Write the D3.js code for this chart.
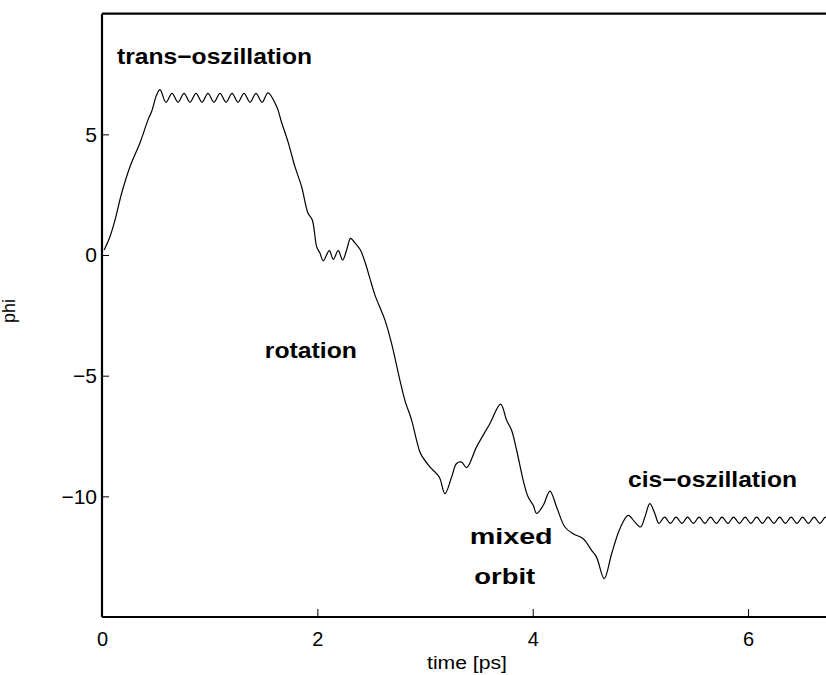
<!DOCTYPE html>
<html>
<head>
<meta charset="utf-8">
<script src="https://cdn.jsdelivr.net/npm/d3@7"></script>
<style>
  html, body { margin: 0; padding: 0; background: #fff; }
  svg { display: block; }
</style>
</head>
<body>
<svg id="chart" width="826" height="675"></svg>
<script>
// Dihedral angle phi over simulation time
const timePs = [
  0.02, 0.074, 0.121, 0.183, 0.26, 0.353, 0.427, 0.461, 0.508, 0.539,
  0.594, 0.650, 0.706, 0.762, 0.817, 0.873, 0.929, 0.984, 1.040, 1.096,
  1.152, 1.208, 1.263, 1.319, 1.375, 1.430, 1.486, 1.542,
  1.622, 1.669, 1.727, 1.792, 1.854, 1.913, 1.953, 1.994, 2.024, 2.055,
  2.111, 2.148, 2.194, 2.235, 2.272, 2.309, 2.349, 2.396, 2.442, 2.488,
  2.535, 2.628, 2.693, 2.767, 2.813, 2.876, 2.922, 2.959, 3.045, 3.132,
  3.185, 3.247, 3.293, 3.340, 3.386, 3.479, 3.603, 3.702, 3.758, 3.804,
  3.851, 3.912, 3.958, 4.005, 4.036, 4.098, 4.160, 4.222, 4.299, 4.376,
  4.469, 4.547, 4.593, 4.664, 4.733, 4.810, 4.887, 4.949, 5.002, 5.042,
  5.088, 5.135,
  5.172, 5.225, 5.279, 5.332, 5.386, 5.439, 5.492, 5.546, 5.599, 5.652,
  5.706, 5.759, 5.813, 5.866, 5.920, 5.973, 6.026, 6.080, 6.133, 6.186,
  6.240, 6.293, 6.347, 6.400, 6.454, 6.507, 6.560, 6.614, 6.667, 6.720,
  6.774
];
const phi = [
  0.21, 0.76, 1.45, 2.57, 3.66, 4.65, 5.60, 5.95, 6.64, 6.85,
  6.33, 6.70, 6.33, 6.70, 6.33, 6.70, 6.33, 6.70, 6.33, 6.70,
  6.33, 6.70, 6.33, 6.70, 6.33, 6.70, 6.33, 6.72,
  6.15, 5.48, 4.70, 3.66, 2.83, 1.74, 1.45, 0.34, 0.08, -0.24,
  0.18, -0.18, 0.18, -0.21, 0.21, 0.69, 0.50, 0.24, -0.28, -0.97,
  -1.66, -2.70, -3.73, -5.19, -6.02, -6.85, -7.68, -8.23, -8.78, -9.20,
  -9.89, -9.20, -8.64, -8.58, -8.81, -7.95, -6.98, -6.18, -6.85, -7.26,
  -8.09, -9.34, -10.03, -10.37, -10.71, -10.37, -9.78, -10.44, -11.27, -11.55,
  -11.76, -12.24, -12.52, -13.41, -12.38, -11.34, -10.79, -11.07, -11.27, -10.86,
  -10.30, -10.72,
  -11.12, -10.86, -11.12, -10.86, -11.12, -10.86, -11.12, -10.86, -11.12, -10.86,
  -11.12, -10.86, -11.12, -10.86, -11.12, -10.86, -11.12, -10.86, -11.12, -10.86,
  -11.12, -10.86, -11.12, -10.86, -11.12, -10.86, -11.12, -10.86, -11.12, -10.86,
  -11.12
];

const xTicks = [0, 2, 4, 6];
const yTicks = [-10, -5, 0, 5];

const regionLabels = ["trans−oszillation", "rotation", "mixed", "orbit", "cis−oszillation"];
const regionTime = [1.045, 1.94, 3.80, 3.74, 5.67];
const regionPhi = [8.16, -4.02, -11.72, -13.38, -9.37];
const regionWidth = [195, 92, 83, 61, 169];

const svg = d3.select("#chart");
const plotLeft = 102, plotRight = 826, plotTop = 13.7, plotBottom = 617;

const x = d3.scaleLinear().domain([0, 6.724]).range([plotLeft, plotRight]);
const y = d3.scaleLinear().domain([-15, 10]).range([plotBottom, plotTop]);

const FONT = '"Liberation Sans", Arial, Helvetica, sans-serif';

svg.append("defs").append("clipPath").attr("id", "plot-clip")
  .append("rect").attr("x", plotLeft).attr("y", plotTop)
  .attr("width", plotRight - plotLeft).attr("height", plotBottom - plotTop);

// axes with inward ticks
const yAxis = svg.append("g").attr("transform", `translate(${plotLeft},0)`)
  .call(d3.axisLeft(y).tickValues(yTicks).tickSizeInner(-7).tickSizeOuter(0).tickPadding(5));
const xAxis = svg.append("g").attr("transform", `translate(0,${plotBottom})`)
  .call(d3.axisBottom(x).tickValues(xTicks).tickFormat(d3.format("d")).tickSizeInner(-8).tickSizeOuter(0).tickPadding(15));

[yAxis, xAxis].forEach(g => {
  g.select(".domain").remove();
  g.selectAll(".tick line").attr("stroke", "#000").attr("stroke-width", 1);
  g.selectAll(".tick text").attr("fill", "#000").style("font-size", "20px").style("font-family", FONT);
});
yAxis.selectAll(".tick text").style("font-size", "21px");

// frame: left, bottom and top edges
const frame = svg.append("g").attr("stroke", "#000").attr("stroke-width", 2.2).attr("fill", "none");
frame.append("line").attr("x1", plotLeft).attr("x2", plotLeft).attr("y1", plotTop).attr("y2", plotBottom);
frame.append("line").attr("x1", plotLeft).attr("x2", plotRight).attr("y1", plotBottom).attr("y2", plotBottom);
frame.append("line").attr("x1", plotLeft).attr("x2", plotRight).attr("y1", plotTop).attr("y2", plotTop);

// trajectory
const pts = timePs.map((t, i) => [t, phi[i]]);
svg.append("path")
  .datum(pts)
  .attr("clip-path", "url(#plot-clip)")
  .attr("fill", "none")
  .attr("stroke", "#000")
  .attr("stroke-width", 1.2)
  .attr("d", d3.line().x(d => x(d[0])).y(d => y(d[1])).curve(d3.curveCatmullRom.alpha(0.5)));

// region annotations
svg.append("g").selectAll("text")
  .data(regionLabels)
  .join("text")
  .attr("x", (d, i) => x(regionTime[i]))
  .attr("y", (d, i) => y(regionPhi[i]))
  .attr("text-anchor", "middle")
  .attr("dominant-baseline", "middle")
  .attr("textLength", (d, i) => regionWidth[i])
  .attr("lengthAdjust", "spacingAndGlyphs")
  .style("font-family", FONT)
  .style("font-weight", "bold")
  .style("font-size", "22px")
  .text(d => d);

// axis titles
svg.append("text")
  .attr("x", 467)
  .attr("y", 669)
  .attr("text-anchor", "middle")
  .attr("textLength", 80)
  .attr("lengthAdjust", "spacingAndGlyphs")
  .style("font-family", FONT)
  .style("font-size", "18px")
  .text("time [ps]");

svg.append("text")
  .attr("transform", "translate(15,311) rotate(-90)")
  .attr("text-anchor", "middle")
  .style("font-family", FONT)
  .style("font-size", "18px")
  .text("phi");
</script>
</body>
</html>
